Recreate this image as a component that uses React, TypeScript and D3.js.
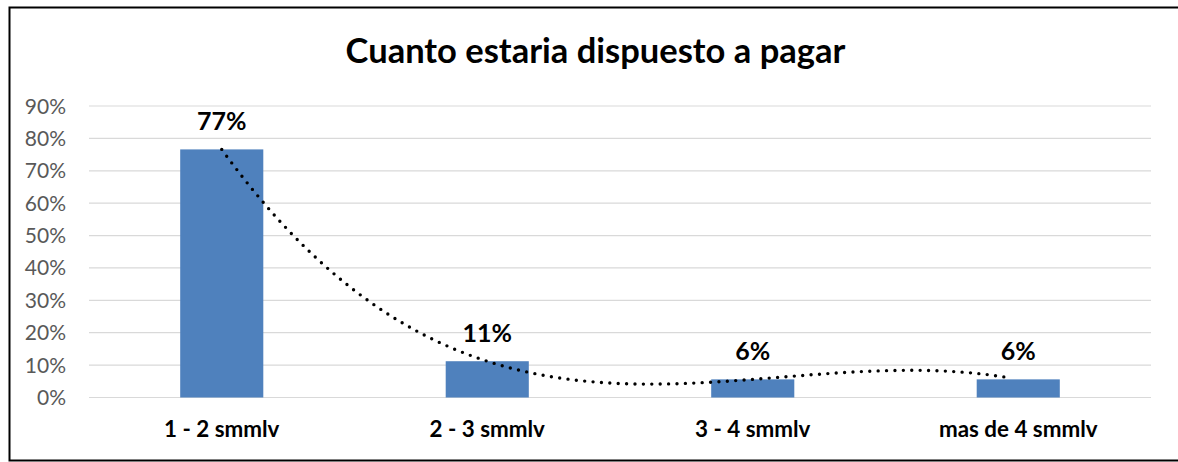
import * as d3 from "d3";

const categories = ["1 - 2 smmlv", "2 - 3 smmlv", "3 - 4 smmlv", "mas de 4 smmlv"];
const shares = [0.766, 0.112, 0.056, 0.056];
const yTicks = [0, 0.1, 0.2, 0.3, 0.4, 0.5, 0.6, 0.7, 0.8, 0.9];
const title = "Cuanto estaria dispuesto a pagar";

const W = 1178;
const H = 462;
const M = { left: 89, right: 1151, top: 106, bottom: 397.5 };
const FONT = "Lato, Carlito, Calibri, sans-serif";

// least squares polynomial fit (Excel "polynomial" trendline, order 3)
function polyfit(xs: number[], ys: number[], order: number): number[] {
  const n = order + 1;
  const A = Array.from({ length: n }, () => new Array(n + 1).fill(0));
  for (let r = 0; r < n; r++) {
    for (let c = 0; c < n; c++) A[r][c] = d3.sum(xs, (x) => Math.pow(x, r + c));
    A[r][n] = d3.sum(xs, (x, i) => Math.pow(x, r) * ys[i]);
  }
  for (let i = 0; i < n; i++) {
    let p = i;
    for (let k = i + 1; k < n; k++) if (Math.abs(A[k][i]) > Math.abs(A[p][i])) p = k;
    [A[i], A[p]] = [A[p], A[i]];
    for (let k = i + 1; k < n; k++) {
      const f = A[k][i] / A[i][i];
      for (let c = i; c <= n; c++) A[k][c] -= f * A[i][c];
    }
  }
  const coef = new Array(n).fill(0);
  for (let i = n - 1; i >= 0; i--) {
    let s = A[i][n];
    for (let c = i + 1; c < n; c++) s -= A[i][c] * coef[c];
    coef[i] = s / A[i][i];
  }
  return coef;
}

export default function App() {
  const x = d3.scaleBand<string>().domain(categories).range([M.left, M.right]).paddingInner(0.687).paddingOuter(0.3435);
  const y = d3.scaleLinear().domain([0, 0.9]).range([M.bottom, M.top]);
  const pct = d3.format(".0%");

  const xs = categories.map((_, i) => i + 1);
  const coef = polyfit(xs, shares, 3);
  const px = d3.scaleLinear().domain([1, categories.length]).range([
    x(categories[0])! + x.bandwidth() / 2,
    x(categories[categories.length - 1])! + x.bandwidth() / 2,
  ]);
  const samples = d3.range(1, categories.length - 0.02, 0.02);
  const trend = d3
    .line<number>()
    .x((t) => px(t))
    .y((t) => y(coef.reduce((s, c, k) => s + c * Math.pow(t, k), 0)))(samples);

  return (
    <svg width={W} height={H} style={{ position: "absolute", left: 0, top: 0, background: "#fff" }} fontFamily={FONT}>
      <rect x={9.5} y={7.5} width={1200} height={453} fill="#fff" stroke="#000" strokeWidth={2} />
      <text x={595.5} y={63} textAnchor="middle" fontSize={34.5} fontWeight={700} fill="#000">
        {title}
      </text>
      {yTicks.map((t) => (
        <g key={t}>
          <line x1={M.left} x2={M.right} y1={y(t)} y2={y(t)} stroke="#d9d9d9" strokeWidth={1.2} />
          <text x={66} y={y(t) + 7.5} textAnchor="end" fontSize={21} fill="#595959">
            {pct(t)}
          </text>
        </g>
      ))}
      {categories.map((c, i) => (
        <g key={c}>
          <rect x={x(c)} y={y(shares[i])} width={x.bandwidth()} height={y(0) - y(shares[i])} fill="#4f81bd" />
          <text x={x(c)! + x.bandwidth() / 2} y={y(shares[i]) - 19} textAnchor="middle" fontSize={25} fontWeight={700} fill="#000">
            {pct(shares[i])}
          </text>
          <text x={x(c)! + x.bandwidth() / 2} y={437} textAnchor="middle" fontSize={22.4} fontWeight={700} fill="#000">
            {c}
          </text>
        </g>
      ))}
      <path d={trend ?? ""} fill="none" stroke="#000" strokeWidth={3.4} strokeDasharray="0 8.4" strokeLinecap="round" />
    </svg>
  );
}
